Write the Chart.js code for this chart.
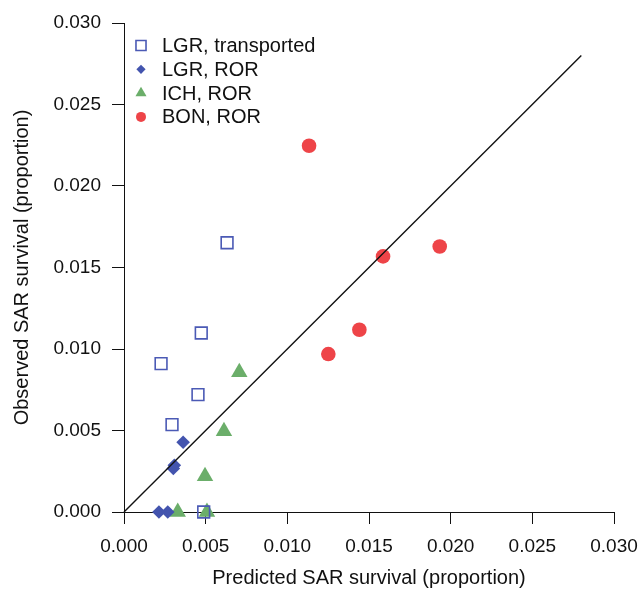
<!DOCTYPE html>
<html>
<head>
<meta charset="utf-8">
<script src="https://cdn.jsdelivr.net/npm/chart.js@4.4.1/dist/chart.umd.min.js"></script>
<style>
html,body{margin:0;padding:0;background:#fff;}
canvas{display:block;}
</style>
</head>
<body>
<canvas id="c" width="643" height="591"></canvas>
<script>
// ---- data ----
const seriesNames = ['LGR, transported', 'LGR, ROR', 'ICH, ROR', 'BON, ROR'];

const lgrTransPredicted = [0.00631, 0.00473, 0.00227, 0.00453, 0.00294, 0.00488];
const lgrTransObserved  = [0.01652, 0.01098, 0.00910, 0.00720, 0.00536, 0.0];

const lgrRorPredicted = [0.00362, 0.00308, 0.00302, 0.00214, 0.00268];
const lgrRorObserved  = [0.00428, 0.00287, 0.00267, 0.0, 0.0];

const ichRorPredicted = [0.00706, 0.00612, 0.00496, 0.00329, 0.00508];
const ichRorObserved  = [0.00857, 0.00495, 0.00219, 0.0, 0.0];

const bonRorPredicted = [0.01133, 0.01586, 0.01933, 0.01441, 0.01251];
const bonRorObserved  = [0.02247, 0.01568, 0.01629, 0.01118, 0.00969];

const oneToOneX = [0, 0.028];
const oneToOneY = [0, 0.028];

const xTickValues = [0, 0.005, 0.010, 0.015, 0.020, 0.025, 0.030];
const xTickLabels = ['0.000', '0.005', '0.010', '0.015', '0.020', '0.025', '0.030'];
const yTickValues = [0, 0.005, 0.010, 0.015, 0.020, 0.025, 0.030];
const yTickLabels = ['0.000', '0.005', '0.010', '0.015', '0.020', '0.025', '0.030'];

const xTitle = 'Predicted SAR survival (proportion)';
const yTitle = 'Observed SAR survival (proportion)';

// ---- styles ----
const FONT = '"Liberation Sans", Arial, Helvetica, sans-serif';
const INK = '#111';
const BLUE_SQ = '#4B5AB5';
const BLUE = '#4354AE';
const GREEN = '#6BAE6A';
const RED = '#EE4448';

const pts = (xs, ys) => xs.map((x, i) => ({x: x, y: ys[i]}));

const seriesStyles = [
  {pointStyle: 'rect', radius: 8.3, bg: 'rgba(0,0,0,0)', border: BLUE_SQ, bw: 1.6, lr: 7.1},
  {pointStyle: 'rectRot', radius: 6.8, bg: BLUE, border: BLUE, bw: 0, lr: 4.6},
  {pointStyle: 'triangle', radius: 9.5, bg: GREEN, border: GREEN, bw: 0, lr: 6.4},
  {pointStyle: 'circle', radius: 7.3, bg: RED, border: RED, bw: 0, lr: 5}
];
const seriesData = [
  pts(lgrTransPredicted, lgrTransObserved),
  pts(lgrRorPredicted, lgrRorObserved),
  pts(ichRorPredicted, ichRorObserved),
  pts(bonRorPredicted, bonRorObserved)
];

const datasets = seriesNames.map((name, i) => ({
  type: 'scatter',
  label: name,
  data: seriesData[i],
  pointStyle: seriesStyles[i].pointStyle,
  pointRadius: seriesStyles[i].radius,
  pointBackgroundColor: seriesStyles[i].bg,
  pointBorderColor: seriesStyles[i].border,
  pointBorderWidth: seriesStyles[i].bw,
  clip: false,
  order: 1
}));
datasets.push({
  type: 'line',
  label: '1:1',
  data: pts(oneToOneX, oneToOneY),
  borderColor: INK,
  borderWidth: 1.4,
  pointRadius: 0,
  fill: false,
  clip: false,
  order: 0
});

const legendPlugin = {
  id: 'insideLegend',
  afterDraw(chart) {
    const ctx = chart.ctx;
    const x0 = 141, textX = 162, y0 = 45.5, step = 23.8;
    ctx.save();
    seriesNames.forEach((name, i) => {
      const s = seriesStyles[i];
      const y = y0 + i * step;
      ctx.fillStyle = s.bg;
      ctx.strokeStyle = s.border;
      ctx.lineWidth = s.bw;
      Chart.helpers.drawPoint(ctx, {pointStyle: s.pointStyle, radius: s.lr, rotation: 0, borderWidth: s.bw}, x0, y);
      ctx.fillStyle = INK;
      ctx.font = '20px ' + FONT;
      ctx.textAlign = 'left';
      ctx.textBaseline = 'middle';
      ctx.fillText(name, textX, y + 1);
    });
    ctx.restore();
  }
};

const axisCommon = (vals, labels) => ({
  type: 'linear',
  min: 0,
  max: 0.03,
  afterBuildTicks: (s) => { s.ticks = vals.map(v => ({value: v})); },
  ticks: {
    callback: (v, i) => labels[i],
    font: {family: FONT, size: 19},
    color: INK,
    padding: 11,
    autoSkip: false,
    maxRotation: 0
  },
  grid: {display: true, drawOnChartArea: false, drawTicks: true, tickLength: 12, color: INK, lineWidth: 1},
  border: {display: true, color: INK, width: 1}
});

const xScale = Object.assign(axisCommon(xTickValues, xTickLabels), {
  position: 'bottom',
  title: {display: true, text: xTitle, font: {family: FONT, size: 20}, color: INK, padding: {top: 0, bottom: 1}},
  afterFit: (s) => { s.height = 79; s.paddingLeft = 0; s.paddingRight = 0; }
});
const yScale = Object.assign(axisCommon(yTickValues, yTickLabels), {
  position: 'left',
  title: {display: true, text: yTitle, font: {family: FONT, size: 20}, color: INK, padding: {top: 10, bottom: 0}},
  afterFit: (s) => { s.width = 124; s.paddingTop = 0; s.paddingBottom = 0; }
});

new Chart(document.getElementById('c'), {
  data: {datasets: datasets},
  options: {
    responsive: false,
    devicePixelRatio: 1,
    animation: false,
    layout: {padding: {left: 0, right: 29, top: 23, bottom: 0}},
    plugins: {legend: {display: false}, tooltip: {enabled: false}},
    scales: {x: xScale, y: yScale}
  },
  plugins: [legendPlugin]
});
</script>
</body>
</html>
